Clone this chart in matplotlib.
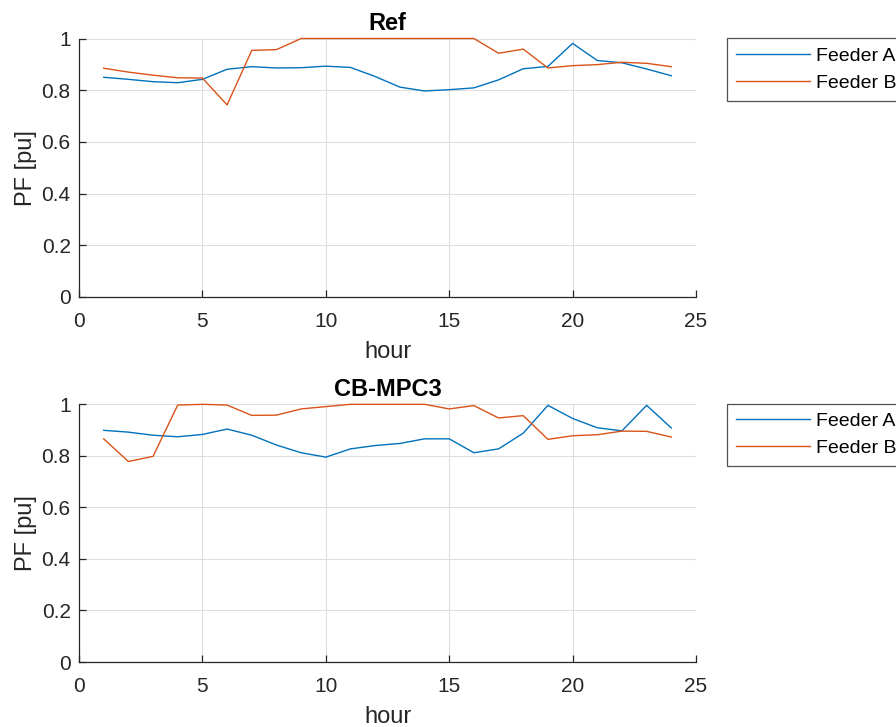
import matplotlib.pyplot as plt
import numpy as np

plt.rcParams['font.family'] = ['Liberation Sans', 'DejaVu Sans']

hours = np.arange(1, 25)

# power factor per hour, reference controller
ref_feeder_a = [0.850, 0.842, 0.833, 0.829, 0.842, 0.881, 0.891, 0.886, 0.887, 0.893, 0.888, 0.853,
                0.812, 0.797, 0.802, 0.809, 0.840, 0.883, 0.892, 0.981, 0.915, 0.906, 0.882, 0.856]
ref_feeder_b = [0.885, 0.870, 0.858, 0.848, 0.847, 0.743, 0.954, 0.957, 1.0, 1.0, 1.0, 1.0,
                1.0, 1.0, 1.0, 1.0, 0.943, 0.959, 0.886, 0.895, 0.899, 0.908, 0.904, 0.891]

# power factor per hour, CB-MPC3
mpc_feeder_a = [0.899, 0.892, 0.880, 0.874, 0.883, 0.904, 0.880, 0.842, 0.812, 0.795, 0.827, 0.840,
                0.848, 0.866, 0.866, 0.812, 0.827, 0.888, 0.996, 0.945, 0.909, 0.897, 0.996, 0.908]
mpc_feeder_b = [0.866, 0.778, 0.798, 0.997, 1.0, 0.997, 0.957, 0.958, 0.982, 0.991, 1.0, 1.0,
                1.0, 1.0, 0.982, 0.995, 0.947, 0.956, 0.864, 0.878, 0.882, 0.896, 0.895, 0.873]

panels = [("Ref", ref_feeder_a, ref_feeder_b), ("CB-MPC3", mpc_feeder_a, mpc_feeder_b)]

W, H = 896, 727
fig = plt.figure(figsize=(W / 100, H / 100), dpi=100)

axes_px = [(79, 38.5, 696, 297), (79, 404.3, 696, 662)]
legend_tops = [38.3, 403.5]
dark = '#262626'

for (title, fa, fb), (x0, y0, x1, y1), ltop in zip(panels, axes_px, legend_tops):
    ax = fig.add_axes([x0 / W, 1 - y1 / H, (x1 - x0) / W, (y1 - y0) / H])
    ax.plot(hours, fa, color='#0072BD', lw=1.0, label='Feeder A', clip_on=False)
    ax.plot(hours, fb, color='#D95319', lw=1.0, label='Feeder B', clip_on=False)
    ax.set_xlim(0, 25)
    ax.set_ylim(0, 1)
    ax.set_xticks([0, 5, 10, 15, 20, 25])
    ax.set_yticks([0, 0.2, 0.4, 0.6, 0.8, 1])
    ax.set_yticklabels(['0', '0.2', '0.4', '0.6', '0.8', '1'])
    ax.grid(True, color='#dedede', lw=0.8)
    ax.set_axisbelow(True)
    for s in ['top', 'right']:
        ax.spines[s].set_visible(False)
    for s in ['left', 'bottom']:
        ax.spines[s].set_color(dark)
        ax.spines[s].set_linewidth(0.9)
    ax.tick_params(direction='in', length=5, width=0.9, color=dark,
                   labelcolor=dark, labelsize=15)
    ax.tick_params(axis='x', pad=11)
    ax.tick_params(axis='y', pad=6)
    ax.set_xlabel('hour', fontsize=17, color=dark, labelpad=7)
    ax.set_ylabel('PF [pu]', fontsize=17, color=dark, labelpad=3)
    ax.set_title(title, fontsize=17, fontweight='bold', pad=6)
    leg = ax.legend(loc='upper left', bbox_to_anchor=(727 / W, 1 - ltop / H),
                    bbox_transform=fig.transFigure, fontsize=14, frameon=True,
                    fancybox=False, handlelength=3.8, handletextpad=0.35,
                    borderpad=0.45, labelspacing=0.5, borderaxespad=0)
    leg.get_frame().set_edgecolor(dark)
    leg.get_frame().set_linewidth(0.9)

fig.savefig('out.png', dpi=100)
